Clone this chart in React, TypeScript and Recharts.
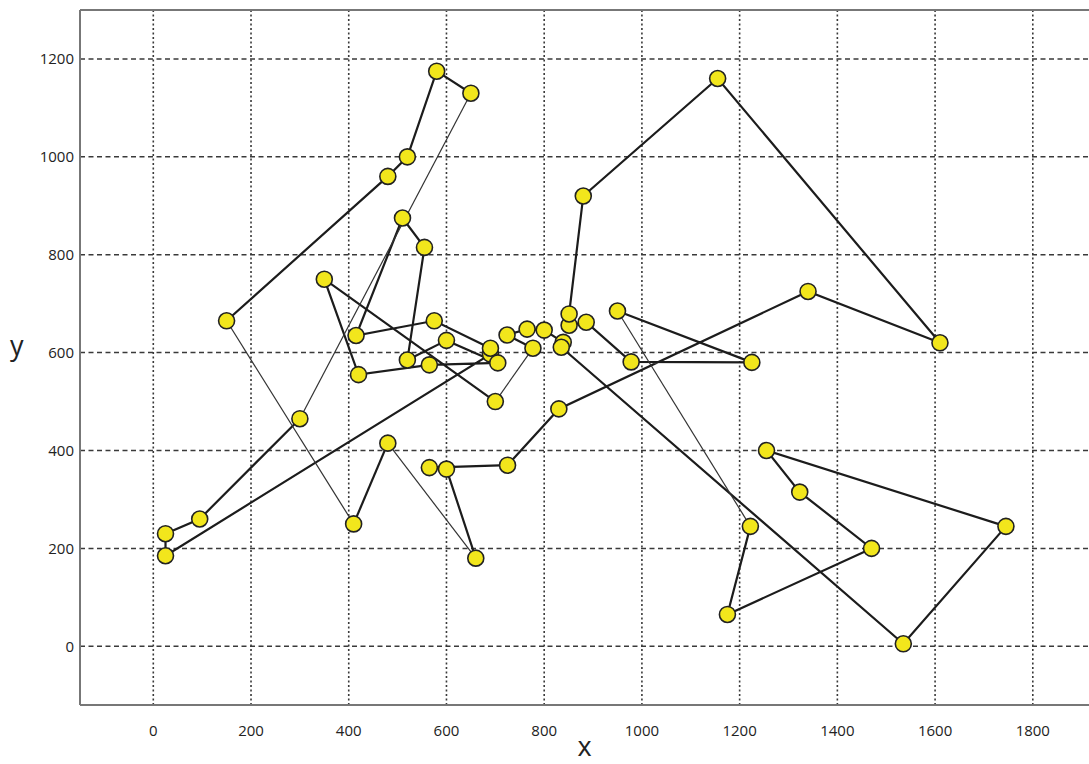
import React from 'react';
import { ScatterChart, Scatter, XAxis, YAxis, CartesianGrid, ReferenceLine } from 'recharts';

// tour order, last point closes the loop back to the first
const tourX = [
  150, 480, 520, 580, 650, 300, 95, 25, 25, 690,
  690, 575, 415, 510, 555, 520, 600, 705, 565, 420,
  350, 700, 777, 724, 765, 800, 839, 835, 1535, 1745,
  1255, 1323, 1470, 1175, 1222, 950, 1225, 978, 886, 851,
  851, 880, 1155, 1610, 1340, 830, 725, 565, 600, 660,
  480, 410, 150,
];
const tourY = [
  665, 960, 1000, 1175, 1130, 465, 260, 230, 185, 597,
  609, 665, 635, 875, 815, 585, 625, 579, 575, 555,
  750, 500, 609, 636, 648, 646, 621, 611, 5, 245,
  400, 315, 200, 65, 245, 685, 580, 581, 662, 656,
  679, 920, 1160, 620, 725, 485, 370, 365, 362, 180,
  415, 250, 665,
];
// edges (index i -> i+1) drawn with the thinner line
const thinEdges = [4, 21, 34, 49, 51];

const xTicks = [0, 200, 400, 600, 800, 1000, 1200, 1400, 1600, 1800];
const yTicks = [0, 200, 400, 600, 800, 1000, 1200];

const points = tourX.map((x, i) => ({ x, y: tourY[i] }));

const thickRuns: { x: number; y: number }[][] = [];
const thinRuns: { x: number; y: number }[][] = [];
let run = [points[0]];
for (let i = 0; i < points.length - 1; i++) {
  if (thinEdges.includes(i)) {
    if (run.length > 1) thickRuns.push(run);
    thinRuns.push([points[i], points[i + 1]]);
    run = [points[i + 1]];
  } else {
    run.push(points[i + 1]);
  }
}
if (run.length > 1) thickRuns.push(run);

const cities = points.slice(0, -1);

const font = '"Open Sans", sans-serif';
const tickStyle = { fontSize: 15, fill: '#222', fontFamily: font };

const noDot = () => <g />;
const cityDot = (props: any) => (
  <circle cx={props.cx} cy={props.cy} r={8} fill="#f2e61c" stroke="#222" strokeWidth={1.6} />
);

export default function App() {
  return (
    <div style={{ position: 'absolute', left: 0, top: 0, background: '#fff' }}>
      <ScatterChart width={1089} height={764} margin={{ top: 10, right: 0, bottom: 0, left: 0 }}>
        <CartesianGrid horizontal={false} verticalValues={xTicks} stroke="#3a3a3a" strokeWidth={1.6} strokeDasharray="2 2.5" />
        <CartesianGrid vertical={false} horizontalValues={yTicks} stroke="#3a3a3a" strokeWidth={1.5} strokeDasharray="5 3.5" />
        <XAxis
          type="number"
          dataKey="x"
          domain={[-150, 1915]}
          ticks={xTicks}
          allowDataOverflow
          height={59}
          tickSize={0}
          tickMargin={20}
          tickLine={false}
          axisLine={{ stroke: '#777', strokeWidth: 2 }}
          tick={tickStyle}
          label={{ value: 'x', position: 'insideBottom', offset: 8, style: { fontSize: 27, fill: '#222', fontFamily: font } }}
        />
        <YAxis
          type="number"
          dataKey="y"
          domain={[-120, 1300]}
          ticks={yTicks}
          allowDataOverflow
          width={80}
          tickSize={0}
          tickMargin={6}
          tickLine={false}
          axisLine={{ stroke: '#777', strokeWidth: 2 }}
          tick={tickStyle}
          label={{ value: 'y', position: 'insideLeft', offset: 10, dy: -12, style: { fontSize: 27, fill: '#222', fontFamily: font } }}
        />
        <ReferenceLine y={1300} stroke="#777" strokeWidth={2} />
        {thickRuns.map((r, i) => (
          <Scatter
            key={`thick-${i}`}
            data={r}
            line={{ stroke: '#1c1c1c', strokeWidth: 2.2 }}
            shape={noDot}
            isAnimationActive={false}
          />
        ))}
        {thinRuns.map((r, i) => (
          <Scatter
            key={`thin-${i}`}
            data={r}
            line={{ stroke: '#333', strokeWidth: 1.2 }}
            shape={noDot}
            isAnimationActive={false}
          />
        ))}
        <Scatter data={cities} shape={cityDot} isAnimationActive={false} />
      </ScatterChart>
    </div>
  );
}
